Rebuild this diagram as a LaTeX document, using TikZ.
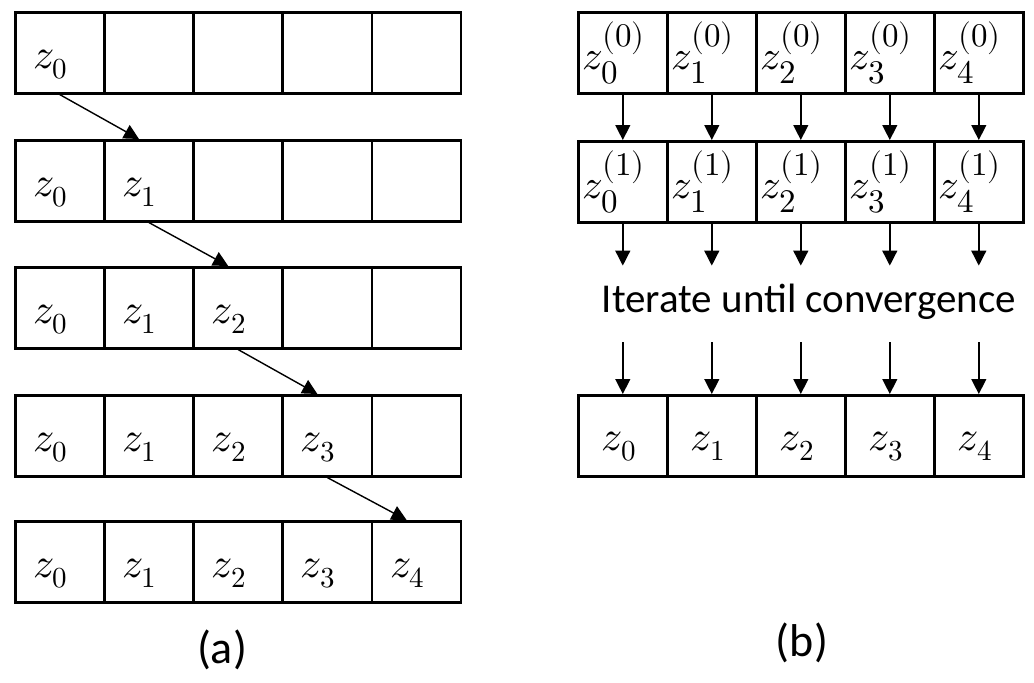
\documentclass[tikz,border=0pt]{standalone}
\usepackage{fontspec}
\usepackage{unicode-math}
\setmainfont{Carlito}
\setmathfont{Latin Modern Math}
\DeclareMathSizes{42}{42}{29}{21}
\DeclareMathSizes{41}{41}{33}{24}
\usetikzlibrary{arrows.meta}
\tikzset{
  x=1pt, y=-1pt,
  cell/.style={draw, line width=2.6pt, minimum width=89pt, minimum height=81pt, inner sep=0pt, anchor=north west},
  lab/.style={inner sep=0pt, anchor=base west, font=\fontsize{42}{42}\selectfont},
  labc/.style={inner sep=0pt, anchor=base, font=\fontsize{42}{42}\selectfont},
  labs/.style={inner sep=0pt, anchor=base west, font=\fontsize{41}{41}\selectfont},
  conn/.style={line width=1.4pt, -{Triangle[width=15pt,length=15pt]}},
  captext/.style={inner sep=0pt, font=\fontsize{46}{46}\selectfont},
  itertext/.style={inner sep=0pt, font=\fontsize{41}{41}\selectfont},
}
\begin{document}
\begin{tikzpicture}
\useasboundingbox (0,0) rectangle (1034,683);
\fill[white] (0,0) rectangle (1034,683);
% ---------- panel (a) ----------
\foreach \r/\top in {0/11,1/139,2/266,3/394,4/520}{
  \foreach \c in {0,...,4}{
    \node[cell] (L\r\c) at ({14+89.2*\c},\top) {};
  }
}
\foreach \r in {0,...,4}{
  \foreach \c in {0,...,4}{
    \ifnum\c>\r\else
      \node[lab] (T\r\c) at ([xshift=19pt,yshift=-57pt]L\r\c.north west) {$z_{\c}$};
    \fi
  }
}
\foreach \r/\n in {0/1,1/2,2/3,3/4}{
  \draw[conn] (L\r\r.south) -- ([xshift=-10pt]L\n\n.north);
}
\node[captext] (capa) at (222,650) {(a)};
% ---------- panel (b) ----------
\foreach \c in {0,...,4}{
  \node[cell] (A\c) at ({577+89*\c},11) {};
  \node[cell] (B\c) at ({577+89*\c},140) {};
  \node[cell] (C\c) at ({577+89*\c},394) {};
  \node[labs] (TA\c) at ([xshift=5pt,yshift=-58pt]A\c.north west) {$z_{\c}^{(0)}$};
  \node[labs] (TB\c) at ([xshift=5pt,yshift=-58pt]B\c.north west) {$z_{\c}^{(1)}$};
  \node[labc] (TC\c) at ([xshift=-4pt,yshift=-56pt]C\c.north) {$z_{\c}$};
  \coordinate (U\c) at ([yshift=-42pt]B\c.south);
  \coordinate (V\c) at ([yshift=52pt]C\c.north);
  \draw[conn] (A\c.south) -- (B\c.north);
  \draw[conn] (B\c.south) -- (U\c);
  \draw[conn] (V\c) -- (C\c.north);
}
\node[itertext, anchor=base] (iter) at (809,312) {Iterate until convergence};
\node[captext] (capb) at (802,643) {(b)};
\end{tikzpicture}
\end{document}
